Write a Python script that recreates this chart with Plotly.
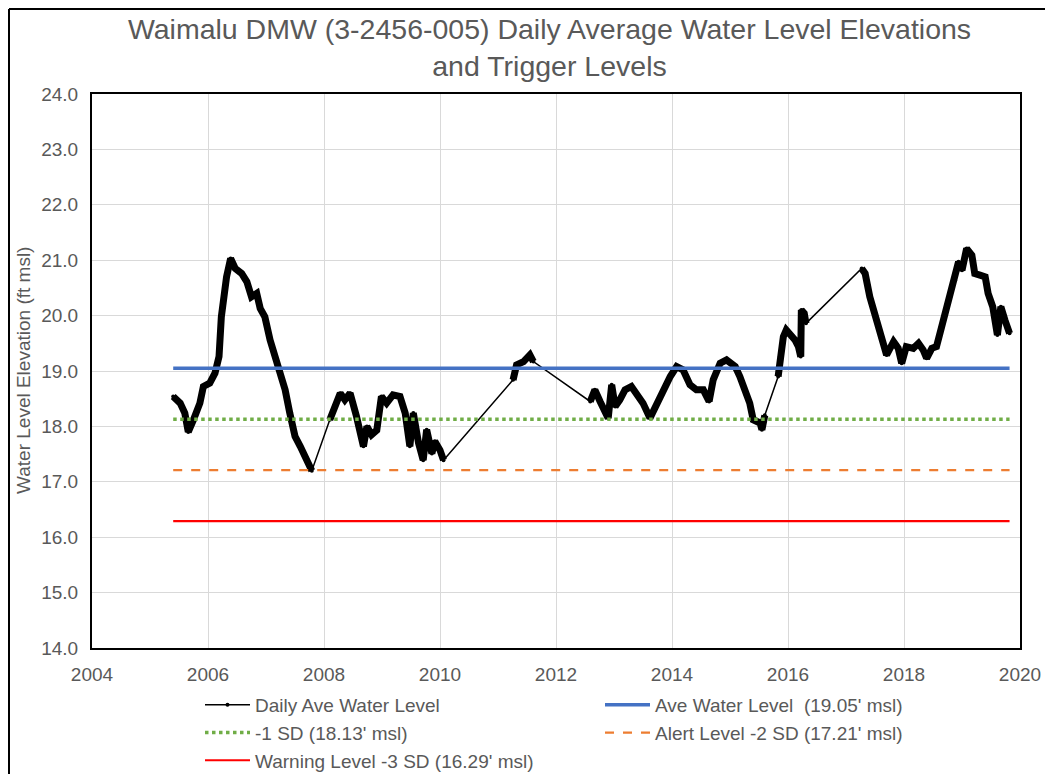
import plotly.graph_objects as go

# ---- data (decimal years, ft msl) ----
dates = [
    2005.40, 2005.52, 2005.60, 2005.66, 2005.75, 2005.86, 2005.92, 2006.03, 2006.12, 2006.19,
    2006.23, 2006.26, 2006.32, 2006.39, 2006.47, 2006.58, 2006.67, 2006.75, 2006.84, 2006.90,
    2006.98, 2007.07, 2007.16, 2007.24, 2007.33, 2007.41, 2007.50, 2007.59, 2007.70, 2007.79,
    2008.10, 2008.19, 2008.28, 2008.36, 2008.45, 2008.56, 2008.68, 2008.74, 2008.82, 2008.91,
    2008.99, 2009.08, 2009.19, 2009.31, 2009.40, 2009.48, 2009.54, 2009.63, 2009.71, 2009.77,
    2009.86, 2009.91, 2010.00, 2010.06,
    2011.26, 2011.32, 2011.44, 2011.55, 2011.61,
    2012.59, 2012.67, 2012.76, 2012.90, 2012.96, 2013.02, 2013.10, 2013.19, 2013.30, 2013.41,
    2013.50, 2013.62, 2013.74, 2013.85, 2013.97, 2014.08, 2014.19, 2014.31, 2014.42, 2014.54,
    2014.64, 2014.71, 2014.83, 2014.94, 2015.09, 2015.17, 2015.26, 2015.34, 2015.40, 2015.52,
    2015.55, 2015.60,
    2015.83, 2015.86, 2015.92, 2015.97, 2016.03, 2016.12, 2016.18, 2016.22, 2016.23, 2016.28,
    2016.31,
    2017.27, 2017.33, 2017.41, 2017.50, 2017.59, 2017.70, 2017.82, 2017.90, 2017.96, 2018.04,
    2018.16, 2018.25, 2018.33, 2018.39, 2018.48, 2018.56, 2018.65, 2018.73, 2018.79, 2018.88,
    2018.94, 2019.00, 2019.08, 2019.17, 2019.22, 2019.31, 2019.40, 2019.45, 2019.53, 2019.61,
    2019.67, 2019.74, 2019.82,
]
levels = [
    18.54, 18.42, 18.24, 17.90, 18.12, 18.42, 18.72, 18.78, 18.96, 19.26,
    19.98, 20.28, 20.70, 21.03, 20.85, 20.76, 20.61, 20.34, 20.40, 20.13,
    19.98, 19.56, 19.26, 19.02, 18.66, 18.24, 17.82, 17.64, 17.39, 17.20,
    18.12, 18.36, 18.60, 18.48, 18.60, 18.18, 17.64, 18.00, 17.85, 17.93,
    18.54, 18.42, 18.57, 18.54, 18.24, 17.64, 18.24, 17.70, 17.39, 17.94,
    17.51, 17.73, 17.57, 17.39,
    18.84, 19.11, 19.17, 19.29, 19.17,
    18.45, 18.66, 18.45, 18.15, 18.75, 18.36, 18.48, 18.66, 18.72, 18.54,
    18.42, 18.15, 18.42, 18.63, 18.90, 19.08, 19.02, 18.75, 18.66, 18.66,
    18.45, 18.84, 19.14, 19.20, 19.08, 18.90, 18.66, 18.42, 18.12, 18.06,
    17.94, 18.20,
    18.90, 19.26, 19.62, 19.74, 19.68, 19.56, 19.44, 19.26, 20.10, 20.04,
    19.86,
    20.85, 20.76, 20.34, 19.98, 19.62, 19.29, 19.53, 19.41, 19.14, 19.44,
    19.41, 19.50, 19.38, 19.23, 19.41, 19.44, 19.80, 20.10, 20.34, 20.64,
    20.97, 20.82, 21.21, 21.09, 20.76, 20.73, 20.70, 20.40, 20.16, 19.65,
    20.16, 19.92, 19.68,
]

trigger_names = [
    "Ave Water Level  (19.05' msl)",
    "-1 SD (18.13' msl)",
    "Alert Level -2 SD (17.21' msl)",
    "Warning Level -3 SD (16.29' msl)",
]
trigger_values = [19.05, 18.13, 17.21, 16.29]
trigger_colors = ["#4472C4", "#70AD47", "#ED7D31", "#FF0000"]
trigger_dash = ["solid", "dot", "dash", "solid"]
trigger_width = [3.5, 3.5, 2.2, 2.2]

x_ticks = [2004, 2006, 2008, 2010, 2012, 2014, 2016, 2018, 2020]
y_ticks = [14, 15, 16, 17, 18, 19, 20, 21, 22, 23, 24]

# thick segments: break the line where there is a data gap
GAP = 0.2
seg_x, seg_y = [], []
for i, (d, v) in enumerate(zip(dates, levels)):
    if i > 0 and d - dates[i - 1] > GAP:
        seg_x.append(None)
        seg_y.append(None)
    seg_x.append(d)
    seg_y.append(v)

FONT = "Liberation Sans, Arial, sans-serif"
GRAY = "#595959"

fig = go.Figure()
fig.add_trace(go.Scatter(
    x=dates, y=levels, mode="lines+markers", name="Daily Ave Water Level",
    line=dict(color="black", width=1.5), marker=dict(color="black", size=4),
))
fig.add_trace(go.Scatter(
    x=seg_x, y=seg_y, mode="lines", showlegend=False,
    line=dict(color="black", width=7), connectgaps=False,
))
for name, val, col, dash, w in zip(trigger_names, trigger_values, trigger_colors, trigger_dash, trigger_width):
    fig.add_trace(go.Scatter(
        x=[dates[0], dates[-1]], y=[val, val], mode="lines", name=name,
        line=dict(color=col, width=w, dash=dash),
    ))

# page body has an 8px margin, so the figure is drawn 8px in from the window edge
W, H = 1045, 766
L, R, T, B = 84, 1012, 86, 640
PW, PH = R - L, B - T

def px(x):
    return (x - L) / PW

def py(y):
    return (B - y) / PH

fig.update_layout(
    width=W, height=H,
    margin=dict(l=L, r=W - R, t=T, b=H - B, autoexpand=False),
    paper_bgcolor="white", plot_bgcolor="white",
    font=dict(family=FONT, color=GRAY, size=19),
    title=dict(
        text="Waimalu DMW (3-2456-005) Daily Average Water Level Elevations<br>and Trigger Levels",
        x=px(541.5), xref="paper", xanchor="center",
        y=1 - 31 / H, yref="container", yanchor="middle",
        font=dict(family=FONT, size=28.5, color=GRAY),
    ),
    xaxis=dict(
        range=[2004, 2020], tickvals=x_ticks, ticktext=[str(t) for t in x_ticks],
        showgrid=True, gridcolor="#d9d9d9", gridwidth=1,
        showline=True, linecolor="black", linewidth=2, mirror=True,
        ticks="outside", ticklen=8, tickcolor="rgba(0,0,0,0)",
        zeroline=False, tickfont=dict(size=19, color=GRAY),
    ),
    yaxis=dict(
        range=[14, 24], tickvals=y_ticks, ticktext=[f"{t:.1f}" for t in y_ticks],
        showgrid=True, gridcolor="#d9d9d9", gridwidth=1,
        showline=True, linecolor="black", linewidth=2, mirror=True,
        ticks="outside", ticklen=8, tickcolor="rgba(0,0,0,0)",
        zeroline=False, tickfont=dict(size=19, color=GRAY),
    ),
    annotations=[dict(
        text="Water Level Elevation (ft msl)", textangle=-90,
        xref="paper", yref="paper", x=px(15), y=0.5,
        xanchor="center", yanchor="middle", showarrow=False,
        font=dict(family=FONT, size=19, color=GRAY),
    )],
    legend=dict(
        orientation="h", x=px(192), xanchor="left",
        y=py(678), yanchor="top",
        entrywidth=340, entrywidthmode="pixels",
        font=dict(size=19, color=GRAY), bgcolor="rgba(0,0,0,0)",
        itemwidth=45, tracegroupgap=0,
    ),
    shapes=[
        dict(type="line", xref="paper", yref="paper",
             x0=px(1), x1=px(1), y0=py(1), y1=py(H + 10),
             line=dict(color="black", width=2)),
        dict(type="line", xref="paper", yref="paper",
             x0=px(1), x1=px(W + 10), y0=py(1), y1=py(1),
             line=dict(color="black", width=2)),
    ],
)

fig.write_html("out.html")
